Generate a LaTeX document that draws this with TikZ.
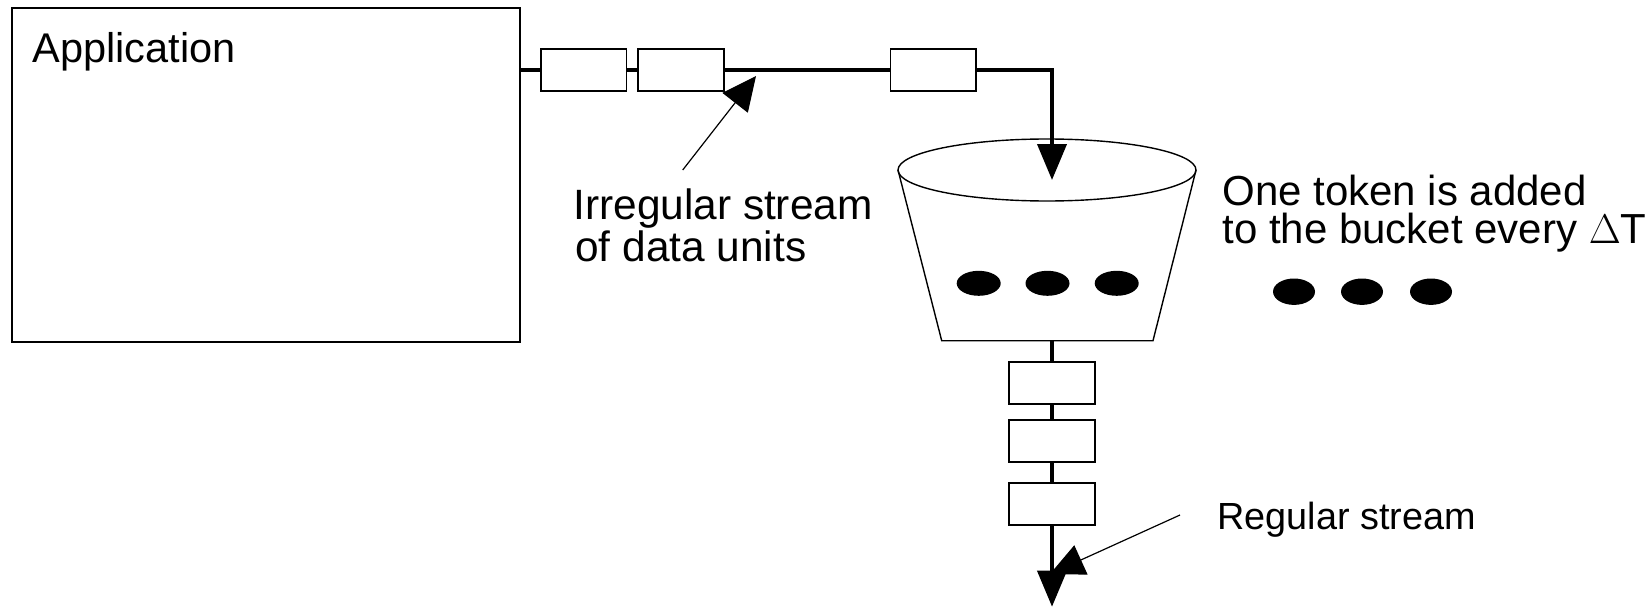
\documentclass[tikz,border=0pt]{standalone}
\usepackage{fontspec}
\setmainfont{Liberation Sans}
\usetikzlibrary{arrows.meta}
\tikzset{
  unitbox/.style={draw, line width=0.9pt, fill=white, minimum width=42.75pt, minimum height=21pt, inner sep=0pt},
  flow/.style={line width=2pt},
  bigtip/.style={-{Triangle[length=18pt,width=14.5pt]}},
  pointer/.style={line width=0.6pt, -{Triangle[length=17pt,width=16pt]}},
  lbl/.style={inner sep=0pt, anchor=base west, font=\fontsize{20.75pt}{24pt}\selectfont},
  thinline/.style={line width=0.7pt},
}
\begin{document}
\begin{tikzpicture}[x=0.5pt,y=-0.5pt]
\useasboundingbox (0,0) rectangle (1648,610);
% application box
\node[draw, line width=1pt, minimum width=254.15pt, minimum height=167pt, inner sep=0pt] (app) at (265.85,174.7) {};
\node[lbl] (applbl) at (32,63) {Application};
% upper data units
\node[unitbox] (u1) at (583.8,70.3) {};
\node[unitbox] (u2) at (681,70.3) {};
\node[unitbox] (u3) at (933.3,70.3) {};
% bucket
\draw[thinline, fill=white] (898,170) -- (941.7,340.7) -- (1153,340.7) -- (1196,170);
\draw[thinline] (1047,170) ellipse [x radius=74.5pt, y radius=15.5pt];
\fill (978.7,283.3) ellipse [x radius=11pt, y radius=6.25pt];
\fill (1047.5,283.3) ellipse [x radius=11pt, y radius=6.25pt];
\fill (1116.7,283.3) ellipse [x radius=11pt, y radius=6.25pt];
\coordinate (tipA) at (1052,180);
\coordinate (bbot) at (1052,340.7);
\coordinate (tipB) at (1052,606.7);
% lower data units
\node[unitbox] (u4) at (1052,383.3) {};
\node[unitbox] (u5) at (1052,441.3) {};
\node[unitbox] (u6) at (1052,504.2) {};
% flow
\draw[flow] (app.north east |- u1.west) -- (u1.west);
\draw[flow] (u1.east) -- (u2.west);
\draw[flow] (u2.east) -- (u3.west);
\draw[flow, bigtip] (u3.east) -| (tipA);
\draw[flow] (bbot) -- (u4.north);
\draw[flow] (u4.south) -- (u5.north);
\draw[flow] (u5.south) -- (u6.north);
\draw[flow, bigtip] (u6.south) -- (tipB);
% tokens outside
\fill (1294,291.7) ellipse [x radius=10.5pt, y radius=6.6pt];
\fill (1362,291.7) ellipse [x radius=10.5pt, y radius=6.6pt];
\fill (1431,291.7) ellipse [x radius=10.5pt, y radius=6.6pt];
% labels
\node[lbl, font=\fontsize{21.2pt}{24pt}\selectfont] (irr1) at (573,219.3) {Irregular stream};
\node[lbl, font=\fontsize{21.2pt}{24pt}\selectfont] (irr2) at (575,261.7) {of data units};
\node[lbl, align=left, font=\fontsize{21pt}{19pt}\selectfont] (tok) at (1222,243) {One token is added\\to the bucket every $\Delta$T};
\node[lbl, font=\fontsize{18.9pt}{22pt}\selectfont] (reg) at (1217,529) {Regular stream};
% pointers
\coordinate (irrS) at (682.7,170);
\coordinate (irrT) at (756,76);
\draw[pointer] (irrS) -- (irrT);
\coordinate (regS) at (1180,515);
\coordinate (regT) at (1050,574);
\draw[pointer] (regS) -- (regT);
\end{tikzpicture}
\end{document}
